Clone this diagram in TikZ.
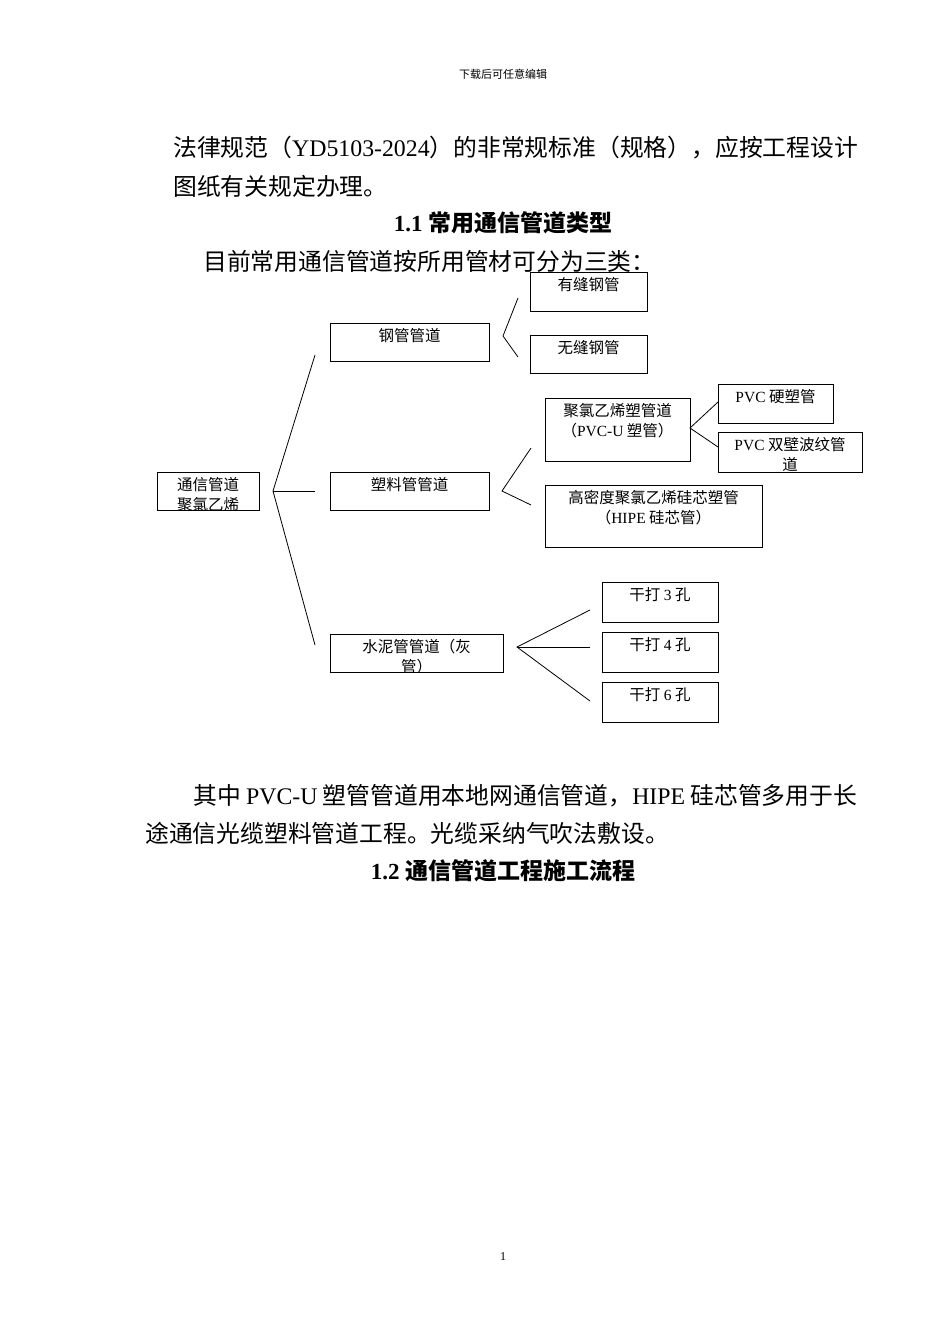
\documentclass[tikz,border=0pt]{standalone}
\usepackage{fontspec}
\setmainfont{Liberation Serif}
\newfontfamily\cjk{Noto Sans CJK SC}
\newcommand\lt[1]{{\rmfamily #1}}
\begin{document}
\begin{tikzpicture}[x=1pt,y=-1pt,
 bx/.style={draw,line width=0.8pt},
 tx/.style={anchor=north,inner sep=0pt,font=\cjk\fontsize{15.5}{20}\selectfont,align=center},
 body/.style={anchor=west,inner sep=0pt,font=\cjk\fontsize{23.8}{28}\selectfont},
 ttl/.style={inner sep=0pt,font=\cjk\bfseries\fontsize{23}{27}\selectfont},
 ln/.style={line width=0.8pt}]
\useasboundingbox (0,0) rectangle (950,1344);
\node[inner sep=0pt,font=\cjk\fontsize{11}{13}\selectfont] (hd) at (503,74) {下载后可任意编辑};
\node[body] (p1) at (173,148) {法律规范（\lt{YD5103-2024}）的非常规标准（规格），应按工程设计};
\node[body] (p2) at (173,186) {图纸有关规定办理。};
\node[ttl] (t1) at (503,223) {\lt{\bfseries 1.1} 常用通信管道类型};
\node[body] (p3) at (203,261) {目前常用通信管道按所用管材可分为三类：};
\node[body] (p4) at (193,796) {其中 \lt{PVC-U} 塑管管道用本地网通信管道，\lt{HIPE} 硅芯管多用于长};
\node[body] (p5) at (145,833) {途通信光缆塑料管道工程。光缆采纳气吹法敷设。};
\node[ttl] (t2) at (503,871) {\lt{\bfseries 1.2} 通信管道工程施工流程};
\node[inner sep=0pt,font=\fontsize{12}{14}\selectfont] (pg) at (503,1257) {1};
\newcommand\mybox[6]{%
 \draw[bx] (#2,#3) rectangle (#4,#5);
 \begin{scope}\clip (#2,#3) rectangle (#4,#5);
 \node[tx] (#1) at ({(#2+#4)/2},#3+5) {#6};\end{scope}}
\mybox{root}{157}{472}{259}{510}{通信管道\\聚氯乙烯}
\mybox{steel}{330}{323}{489}{361}{钢管管道}
\mybox{plas}{330}{472}{489}{510}{塑料管管道}
\mybox{cem}{330}{634}{503}{672}{水泥管管道（灰\\管）}
\mybox{s1}{530}{272}{647}{311}{有缝钢管}
\mybox{s2}{530}{335}{647}{373}{无缝钢管}
\mybox{pu}{545}{398}{690}{461}{聚氯乙烯塑管道\\（\lt{PVC-U} 塑管）}
\mybox{pv1}{718}{384}{833}{423}{\lt{PVC} 硬塑管}
\mybox{pv2}{718}{432}{862}{472}{\lt{PVC} 双壁波纹管\\道}
\mybox{hd2}{545}{485}{762}{547}{高密度聚氯乙烯硅芯塑管\\（\lt{HIPE} 硅芯管）}
\mybox{g3}{602}{582}{718}{622}{干打 \lt{3} 孔}
\mybox{g4}{602}{632}{718}{672}{干打 \lt{4} 孔}
\mybox{g6}{602}{682}{718}{722}{干打 \lt{6} 孔}
\coordinate (r0) at (273,491);
\draw[ln] (315,355) -- (r0) -- (315,645);
\draw[ln] (r0) -- (315,491);
\coordinate (sf) at (503,336);
\draw[ln] (518,298) -- (sf) -- (518,357);
\coordinate (pf) at (502,491);
\draw[ln] (531,448) -- (pf) -- (531,505);
\coordinate (cf) at (517,647);
\draw[ln] (590,610) -- (cf) -- (590,701);
\draw[ln] (cf) -- (590,647);
\coordinate (uf) at (690,428);
\draw[ln] (718,402) -- (uf) -- (718,447);
\end{tikzpicture}
\end{document}
